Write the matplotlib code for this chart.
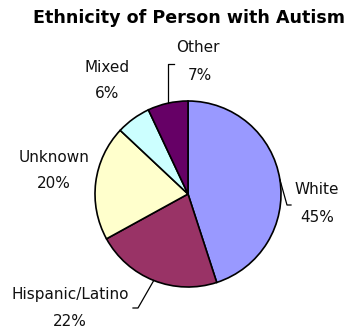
import numpy as np
import matplotlib
matplotlib.use("Agg")
import matplotlib.pyplot as plt

categories = ["White", "Hispanic/Latino", "Unknown", "Mixed", "Other"]
values = [45, 22, 20, 6, 7]
colors = ["#9999FF", "#993366", "#FFFFCC", "#CCFFFF", "#660066"]

W, H = 360, 329
fig = plt.figure(figsize=(W / 100, H / 100), dpi=100)
ax = fig.add_axes([0, 0, 1, 1])


def Y(ypx):
    return H - ypx


cx, cy, r = 188, Y(194), 93
wedges, _ = ax.pie(values, colors=colors, startangle=90, counterclock=False,
                   center=(cx, cy), radius=r,
                   wedgeprops=dict(edgecolor="black", linewidth=1.2))
ax.set_xlim(0, W)
ax.set_ylim(0, H)
ax.set_aspect("equal")
ax.axis("off")
ax.set_position([0, 0, 1, 1])

fig.text(189 / W, 1 - 18 / H, "Ethnicity of Person with Autism", ha="center", va="center",
         fontsize=12.6, fontweight="bold", family="DejaVu Sans")

# label positions (name, pct) in pixel coords
label_pos = {
    "White": ((317, 190), (317, 217)),
    "Hispanic/Latino": ((70, 294), (70, 321)),
    "Unknown": ((54, 158), (54, 184)),
    "Mixed": ((107, 68), (107, 93)),
    "Other": ((198, 48), (200, 75)),
}
# leader elbows (pixel coords)
elbows = {
    "White": [(287, 205), (291, 205)],
    "Hispanic/Latino": [(138, 308), (133, 308)],
    "Other": [None, (174, 64)],
}

total = sum(values)
for w, cat, v in zip(wedges, categories, values):
    (nx, ny), (px, py) = label_pos[cat]
    ax.text(nx, Y(ny), cat, ha="center", va="center", fontsize=11, color="#111111")
    ax.text(px, Y(py), f"{round(100 * v / total)}%", ha="center", va="center", fontsize=11,
            color="#111111")
    if cat in elbows:
        ang = np.deg2rad((w.theta1 + w.theta2) / 2)
        sx = cx + r * np.cos(ang)
        sy = cy + r * np.sin(ang)
        pts = [(sx, sy)]
        for p in elbows[cat]:
            if p is None:
                pts.append((sx, Y(64)))
            else:
                pts.append((p[0], Y(p[1])))
        xs, ys = zip(*pts)
        ax.plot(xs, ys, color="black", lw=0.9)

fig.savefig("out.png", dpi=100)
